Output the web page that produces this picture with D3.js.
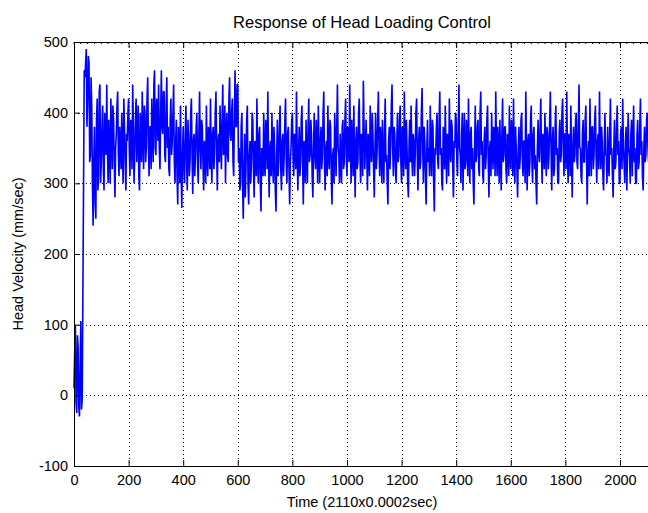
<!DOCTYPE html>
<html>
<head>
<meta charset="utf-8">
<script src="https://cdn.jsdelivr.net/npm/d3@7"></script>
<style>
  body { margin: 0; background: #fff; }
  svg { display: block; overflow: hidden; }
  text { font-family: "Liberation Sans", Arial, sans-serif; fill: #000; }
</style>
</head>
<body>
<div id="graph"></div>
<script>
const title = "Response of Head Loading Control";
const xLabel = "Time (2110x0.0002sec)";
const yLabel = "Head Velocity (mm/sec)";
const xTicks = [0, 200, 400, 600, 800, 1000, 1200, 1400, 1600, 1800, 2000];
const yTicks = [-100, 0, 100, 200, 300, 400, 500];
const xMax = 2110;
const step = 2.5; // one reading every 2.5 samples

// head velocity (mm/sec); one row per 100 samples
const velocity = [
  10, 60, 100, -10, -25, 85, 70, -15, -30, 40, 105, -20, -5, 140, 300, 460, 450, 470, 490, 380, 420, 480, 470, 330, 340, 450, 410, 300, 240, 330, 380, 270, 250, 390, 420, 290, 310, 430, 440, 300,
  330, 380, 410, 320, 290, 400, 380, 340, 440, 350, 300, 390, 360, 300, 420, 370, 320, 410, 390, 330, 280, 350, 370, 410, 430, 340, 310, 380, 350, 320, 400, 340, 300, 420, 380, 330, 290, 370, 360, 400,
  420, 350, 310, 390, 370, 320, 440, 380, 300, 340, 390, 420, 330, 370, 410, 310, 290, 400, 360, 330, 430, 370, 320, 410, 400, 330, 350, 420, 450, 360, 310, 380, 380, 320, 420, 370, 330, 440, 460, 350,
  340, 420, 410, 360, 440, 350, 320, 400, 460, 380, 370, 430, 430, 340, 330, 410, 450, 350, 380, 320, 310, 390, 420, 340, 360, 400, 440, 330, 300, 360, 390, 310, 270, 380, 350, 300, 410, 320, 265, 340,
  380, 320, 300, 370, 410, 330, 290, 390, 360, 310, 330, 400, 420, 340, 285, 360, 370, 310, 340, 380, 400, 330, 300, 370, 430, 350, 320, 390, 380, 330, 290, 360, 350, 300, 410, 340, 310, 380, 360, 320,
  420, 340, 300, 370, 380, 320, 340, 400, 430, 350, 290, 360, 370, 330, 410, 360, 320, 390, 440, 340, 350, 410, 300, 370, 400, 340, 330, 420, 450, 370, 360, 400, 420, 330, 310, 390, 460, 380, 380, 440,
  440, 330, 350, 290, 300, 380, 400, 300, 250, 320, 370, 280, 320, 390, 410, 300, 270, 340, 360, 300, 330, 400, 390, 320, 280, 360, 350, 310, 420, 340, 300, 370, 380, 300, 260, 350, 340, 310, 400, 330,
  310, 390, 370, 320, 430, 340, 280, 350, 360, 310, 400, 340, 300, 380, 350, 290, 260, 340, 390, 310, 330, 380, 410, 320, 290, 360, 370, 310, 340, 390, 420, 330, 300, 370, 380, 320, 270, 330, 350, 390,
  400, 340, 310, 370, 360, 320, 430, 350, 290, 340, 380, 310, 330, 390, 410, 330, 270, 360, 350, 300, 390, 340, 300, 380, 420, 330, 340, 390, 370, 310, 280, 350, 400, 340, 320, 390, 360, 300, 410, 350,
  300, 360, 380, 320, 340, 400, 430, 330, 290, 350, 360, 310, 410, 340, 320, 390, 380, 310, 270, 340, 350, 300, 400, 360, 310, 380, 440, 350, 340, 300, 370, 330, 300, 380, 390, 320, 330, 390, 420, 340,
  310, 380, 370, 330, 440, 360, 300, 390, 350, 310, 410, 340, 280, 360, 380, 320, 330, 400, 420, 340, 300, 370, 360, 310, 445, 380, 320, 350, 390, 340, 290, 370, 350, 310, 410, 350, 330, 400, 370, 320,
  280, 350, 400, 320, 340, 390, 430, 350, 310, 380, 360, 300, 390, 340, 300, 370, 420, 330, 340, 300, 270, 360, 380, 320, 350, 410, 440, 350, 310, 380, 370, 320, 300, 360, 400, 330, 340, 390, 410, 330,
  300, 380, 370, 310, 430, 350, 320, 390, 350, 300, 280, 360, 390, 330, 410, 340, 310, 370, 360, 310, 340, 400, 420, 340, 290, 360, 380, 320, 330, 400, 435, 350, 300, 380, 360, 310, 270, 350, 390, 330,
  350, 310, 410, 340, 310, 390, 380, 300, 260, 350, 340, 380, 400, 330, 320, 390, 430, 340, 350, 300, 290, 380, 370, 320, 410, 350, 300, 370, 360, 310, 420, 350, 330, 390, 380, 320, 280, 360, 350, 400,
  390, 330, 310, 380, 440, 350, 340, 300, 370, 400, 290, 350, 400, 320, 330, 390, 360, 310, 420, 350, 300, 370, 380, 320, 350, 300, 270, 350, 410, 330, 340, 380, 390, 320, 310, 400, 430, 340, 360, 310,
  300, 360, 380, 320, 340, 390, 410, 330, 280, 350, 360, 310, 400, 350, 320, 380, 370, 310, 430, 350, 310, 380, 350, 300, 390, 340, 290, 370, 420, 330, 340, 380, 380, 320, 300, 370, 360, 310, 410, 340,
  320, 390, 370, 310, 420, 340, 300, 380, 350, 320, 280, 350, 380, 320, 340, 390, 400, 330, 310, 360, 360, 300, 430, 350, 290, 360, 370, 310, 330, 390, 410, 330, 300, 370, 380, 320, 340, 300, 270, 350,
  390, 340, 330, 380, 420, 340, 300, 370, 360, 320, 400, 350, 310, 380, 370, 320, 340, 390, 430, 350, 290, 360, 380, 310, 320, 380, 410, 340, 350, 300, 300, 370, 390, 330, 340, 400, 420, 350, 310, 370,
  370, 320, 430, 350, 300, 370, 360, 310, 410, 340, 280, 350, 380, 330, 340, 390, 400, 330, 320, 380, 440, 350, 350, 310, 300, 370, 390, 330, 330, 390, 410, 340, 270, 340, 360, 310, 420, 350, 310, 380,
  380, 320, 340, 390, 410, 340, 300, 360, 370, 320, 430, 350, 320, 380, 360, 310, 290, 350, 400, 340, 340, 300, 380, 330, 310, 370, 420, 340, 350, 310, 280, 350, 390, 320, 330, 380, 410, 340, 360, 300,
  300, 370, 380, 320, 420, 350, 330, 300, 360, 380, 290, 340, 400, 350, 340, 300, 370, 390, 310, 360, 410, 330, 350, 300, 300, 370, 390, 320, 330, 380, 420, 340, 360, 310, 290, 350, 380, 330, 340, 390,
  400, 350, 330, 380, 360
];

const w = 648;
const h = 513;
const box = { left: 74, top: 42, right: 650, bottom: 466 };

const svg = d3.select("#graph").append("svg").attr("width", w).attr("height", h);
svg.append("rect").attr("width", w).attr("height", h).attr("fill", "#fff");

const xScale = d3.scaleLinear().domain([0, xMax]).range([box.left, box.right]);
const yScale = d3.scaleLinear().domain([-100, 500]).range([box.bottom, box.top]);

// dotted grid
const grid = svg.append("g").attr("stroke", "#000").attr("stroke-width", 1).attr("stroke-dasharray", "1,3");
grid.selectAll(".vg").data(xTicks.slice(1)).enter().append("line")
  .attr("x1", (d) => Math.round(xScale(d)) + 0.5).attr("x2", (d) => Math.round(xScale(d)) + 0.5)
  .attr("y1", box.top).attr("y2", box.bottom);
grid.selectAll(".hg").data(yTicks.slice(1, -1)).enter().append("line")
  .attr("y1", (d) => Math.round(yScale(d)) + 0.5).attr("y2", (d) => Math.round(yScale(d)) + 0.5)
  .attr("x1", box.left).attr("x2", box.right);

// signal
svg.append("path")
  .datum(velocity)
  .attr("fill", "none")
  .attr("stroke", "#0000ff")
  .attr("stroke-width", 1.6)
  .attr("stroke-linejoin", "bevel")
  .attr("d", d3.line().x((d, i) => xScale(i * step)).y((d) => yScale(d)));

// axes (ticks point inward, box on)
const fmt = (d) => String(d);
const bottomAxis = svg.append("g").attr("transform", `translate(0,${box.bottom})`)
  .call(d3.axisBottom(xScale).tickValues(xTicks).tickSize(-6).tickSizeOuter(0).tickPadding(9).tickFormat(fmt));
const topAxis = svg.append("g").attr("transform", `translate(0,${box.top})`)
  .call(d3.axisTop(xScale).tickValues(xTicks).tickSize(-6).tickSizeOuter(0).tickFormat(""));
const leftAxis = svg.append("g").attr("transform", `translate(${box.left},0)`)
  .call(d3.axisLeft(yScale).tickValues(yTicks).tickSize(-6).tickSizeOuter(0).tickPadding(6).tickFormat(fmt));
[bottomAxis, topAxis, leftAxis].forEach((a) => {
  a.select(".domain").remove();
  a.selectAll("text").attr("font-size", 14.5).attr("font-family", null).attr("fill", "#000");
  a.selectAll("line").attr("stroke", "#000");
});

// small marks along the top edge
svg.append("g").selectAll("line").data(d3.range(0, xMax, 25)).enter().append("line")
  .attr("x1", (d) => xScale(d)).attr("x2", (d) => xScale(d))
  .attr("y1", box.top).attr("y2", box.top + 2).attr("stroke", "#000");

svg.append("rect")
  .attr("x", box.left + 0.5).attr("y", box.top + 0.5)
  .attr("width", box.right - box.left).attr("height", box.bottom - box.top)
  .attr("fill", "none").attr("stroke", "#000").attr("stroke-width", 1);

svg.append("text").attr("x", (box.left + box.right) / 2).attr("y", 28)
  .attr("text-anchor", "middle").attr("font-size", 16.5).text(title);
svg.append("text").attr("x", (box.left + box.right) / 2).attr("y", 507)
  .attr("text-anchor", "middle").attr("font-size", 14.5).text(xLabel);
svg.append("text").attr("transform", `translate(23,${(box.top + box.bottom) / 2}) rotate(-90)`)
  .attr("text-anchor", "middle").attr("font-size", 14.5).text(yLabel);
</script>
</body>
</html>
